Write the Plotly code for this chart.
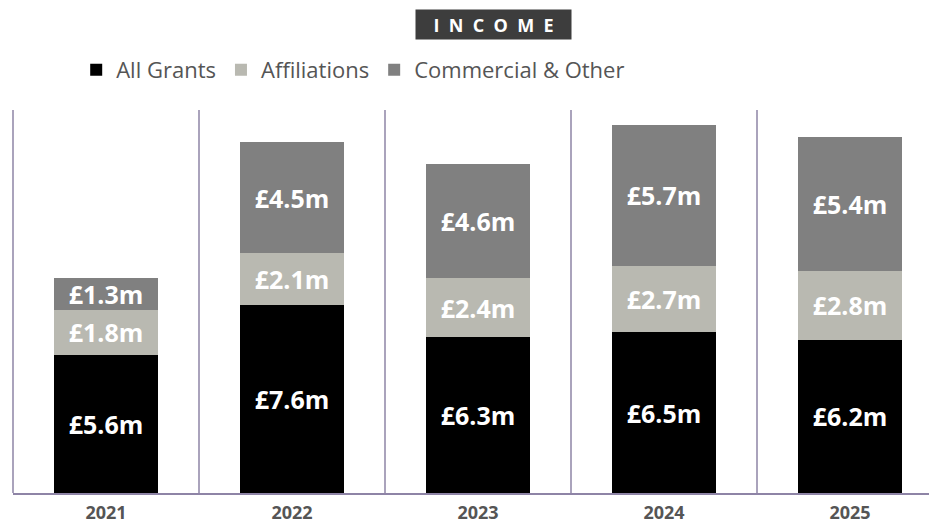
import plotly.graph_objects as go

years = ["2021", "2022", "2023", "2024", "2025"]
grants = [5.6, 7.6, 6.3, 6.5, 6.2]
affiliations = [1.8, 2.1, 2.4, 2.7, 2.8]
commercial = [1.3, 4.5, 4.6, 5.7, 5.4]

series = [
    ("All Grants", grants, "#000000"),
    ("Affiliations", affiliations, "#b9b9b1"),
    ("Commercial & Other", commercial, "#808080"),
]

FONT = "Open Sans"
AXIS_COLOR = "#8e84a6"

fig = go.Figure()
for name, vals, color in series:
    fig.add_trace(go.Bar(
        x=years, y=vals, name=name,
        marker=dict(color=color, line=dict(width=0)),
        width=0.56,
        text=[f"£{v:.1f}m" for v in vals],
        textposition="inside",
        insidetextanchor="middle",
        textangle=0,
        textfont=dict(family=FONT, size=25, color="white", weight="bold"),
        hoverinfo="skip",
    ))

shapes = []
for i in range(len(years) - 1):
    shapes.append(dict(type="line", xref="x", yref="paper", x0=i + 0.5, x1=i + 0.5,
                       y0=0, y1=1, line=dict(color=AXIS_COLOR, width=1.5), layer="below"))
shapes.append(dict(type="line", xref="paper", yref="paper", x0=0, x1=0,
                   y0=0, y1=1, line=dict(color=AXIS_COLOR, width=1.5)))

fig.update_layout(
    width=929, height=525,
    margin=dict(l=13, r=0, t=110, b=32),
    paper_bgcolor="white", plot_bgcolor="white",
    barmode="stack",
    showlegend=True,
    legend=dict(orientation="h", x=0.069, xanchor="left", y=1 + 40 / 383, yanchor="middle",
                font=dict(family=FONT, size=22, color="#555555"),
                itemclick=False, traceorder="normal"),
    uniformtext=dict(minsize=24, mode="show"),
    shapes=shapes,
    annotations=[dict(
        text="<b>I  N  C  O  M  E</b>", xref="paper", yref="paper",
        x=(493 - 13) / 916, y=1 + (110 - 24.5) / 383, xanchor="center", yanchor="middle",
        showarrow=False, bgcolor="#3d3d3d", width=155, height=29, borderpad=0,
        font=dict(family=FONT, size=18, color="white"),
    )],
    xaxis=dict(range=[-0.5, -0.5 + 916 / 186], showgrid=False, zeroline=False,
               showline=True, linecolor=AXIS_COLOR, linewidth=1.5,
               ticks="", ticklabelstandoff=3,
               tickfont=dict(family=FONT, size=18, color="#555555", weight="bold"),
               automargin=False, fixedrange=True),
    yaxis=dict(range=[0, 15.5], showgrid=False, zeroline=False, showticklabels=False,
               showline=False, automargin=False, fixedrange=True),
)

fig.write_html("out.html", config={"displayModeBar": False},
               post_script="document.body.style.margin='0';document.body.style.overflow='hidden';")
